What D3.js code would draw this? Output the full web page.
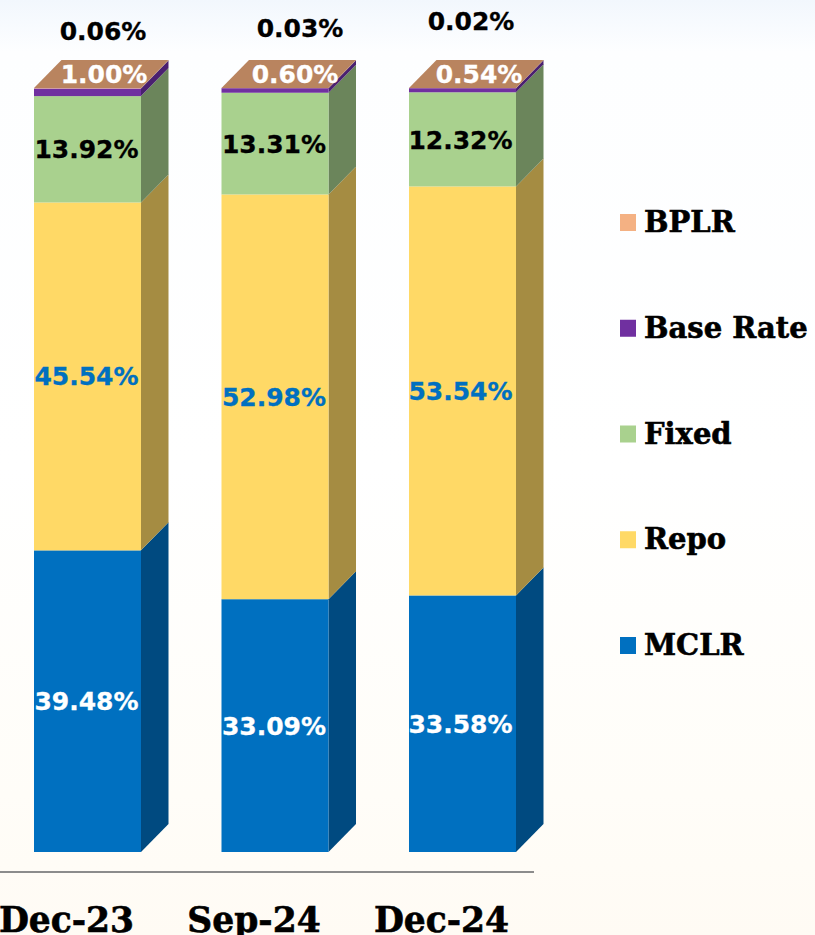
<!DOCTYPE html>
<html>
<head>
<meta charset="utf-8">
<script src="https://cdn.jsdelivr.net/npm/d3@7"></script>
<style>
  html, body { margin: 0; padding: 0; background: #fff; overflow: hidden; }
  svg { display: block; }
  .val { font-family: "DejaVu Sans", sans-serif; font-weight: bold; font-size: 25px; text-anchor: middle; stroke-width: 0.3px; }
  .serif { font-family: "DejaVu Serif", serif; font-weight: bold; fill: #000; stroke: #000; stroke-width: 0.6px; }
</style>
</head>
<body>
<div id="chart"></div>
<script>
// values, one array per series
var categories = ['Dec-23', 'Sep-24', 'Dec-24'];
var mclr = [39.48, 33.09, 33.58];
var repo = [45.54, 52.98, 53.54];
var fixed = [13.92, 13.31, 12.32];
var baseRate = [1.00, 0.60, 0.54];
var bplr = [0.06, 0.03, 0.02];
var seriesNames = ['MCLR', 'Repo', 'Fixed', 'Base Rate', 'BPLR'];
var seriesValues = [mclr, repo, fixed, baseRate, bplr];

var WIDTH = 815, HEIGHT = 935;
var DEPTH_X = 27.5, DEPTH_Y = 28;

var frontColor = ['#0070c0', '#ffd966', '#a9d18e', '#7030a0', '#f4b183'];
var sideColor = ['#004a80', '#a58c42', '#6b855b', '#4a2070', '#a0755a'];
var topColor = '#b9845f';
var labelColor = ['#fff', '#0070c0', '#000'];

// hand placed labels, the source chart had them dragged around
var labelShift = [-1, -1, -2];
var baseLabelPos = [[104, 74], [295, 74], [479, 74]];
var bplrLabelPos = [[103, 31], [300, 28], [471, 21]];
var repoLabelY = [376, 397, 391];
var fixedLabelY = [149, 144, 140];

var svg = d3.select('#chart').append('svg').attr('width', WIDTH).attr('height', HEIGHT);

var grad = svg.append('defs').append('linearGradient')
  .attr('id', 'bg').attr('x1', 0).attr('y1', 0).attr('x2', 0).attr('y2', 1);
[[0, '#f2f7fd'], [0.055, '#fdfeff'], [0.5, '#ffffff'], [0.85, '#fffdf8'], [1, '#fffbf4']].forEach(function (s) {
  grad.append('stop').attr('offset', s[0]).attr('stop-color', s[1]);
});
svg.append('rect').attr('width', WIDTH).attr('height', HEIGHT).attr('fill', 'url(#bg)');

var x = d3.scaleBand().domain(categories).range([34, 516]).paddingInner(0.4293);
var y = d3.scaleLinear().domain([0, 100]).range([852, 88]);

// stack the series per category
var rows = categories.map(function (c, i) {
  var row = { category: c };
  seriesNames.forEach(function (n, k) { row[n] = seriesValues[k][i]; });
  return row;
});
var stacked = d3.stack().keys(seriesNames)(rows);

var bars = svg.append('g');
stacked.forEach(function (layer, k) {
  var g = bars.append('g');
  // side wall
  g.selectAll('path').data(layer).enter().append('path')
    .attr('fill', sideColor[k])
    .attr('d', function (d) {
      var x1 = x(d.data.category) + x.bandwidth();
      return 'M' + x1 + ',' + y(d[0]) + 'L' + (x1 + DEPTH_X) + ',' + (y(d[0]) - DEPTH_Y) +
        'L' + (x1 + DEPTH_X) + ',' + (y(d[1]) - DEPTH_Y) + 'L' + x1 + ',' + y(d[1]) + 'Z';
    });
  // front
  g.selectAll('rect').data(layer).enter().append('rect')
    .attr('x', function (d) { return x(d.data.category); })
    .attr('y', function (d) { return y(d[1]); })
    .attr('width', x.bandwidth())
    .attr('height', function (d) { return y(d[0]) - y(d[1]); })
    .attr('fill', frontColor[k]);
});

// top face
bars.append('g').selectAll('path').data(stacked[4]).enter().append('path')
  .attr('fill', topColor)
  .attr('d', function (d) {
    var x0 = x(d.data.category), w = x.bandwidth(), t = y(d[1]);
    return 'M' + x0 + ',' + t + 'L' + (x0 + DEPTH_X) + ',' + (t - DEPTH_Y) +
      'L' + (x0 + w + DEPTH_X) + ',' + (t - DEPTH_Y) + 'L' + (x0 + w) + ',' + t + 'Z';
  });

// axis line + category labels (labels sit left of the bars in the source)
var axis = svg.append('g').attr('transform', 'translate(-21,872)')
  .call(d3.axisBottom(x).tickSize(0).tickPadding(0));
axis.select('.domain').remove();
axis.selectAll('text').attr('class', 'serif').attr('dy', 0).attr('y', 60)
  .style('font-size', '34.5px').style('font-family', '"DejaVu Serif", serif').style('font-weight', 'bold').attr('fill', '#000');
svg.append('line').attr('x1', 0).attr('x2', 534).attr('y1', 872).attr('y2', 872)
  .attr('stroke', '#8c8c8c').attr('stroke-width', 2);

// value labels
function fmt(v) { return v.toFixed(2) + '%'; }
var labels = svg.append('g');
function valueLabel(px, py, v, color) {
  labels.append('text').attr('class', 'val')
    .attr('x', px).attr('y', py).attr('dy', '0.36em')
    .attr('fill', color).attr('stroke', color).text(fmt(v));
}
categories.forEach(function (c, i) {
  var cx = x(c) + x.bandwidth() / 2 + labelShift[i];
  valueLabel(cx, (y(0) + y(mclr[i])) / 2, mclr[i], labelColor[0]);
  valueLabel(cx, repoLabelY[i], repo[i], labelColor[1]);
  valueLabel(cx, fixedLabelY[i], fixed[i], labelColor[2]);
  valueLabel(baseLabelPos[i][0], baseLabelPos[i][1], baseRate[i], '#fff');
  valueLabel(bplrLabelPos[i][0], bplrLabelPos[i][1], bplr[i], '#000');
});

// legend, top entry is the last series
var legendY = d3.scalePoint().domain(seriesNames.slice().reverse()).range([222, 645]);
var legend = svg.append('g').selectAll('g').data(seriesNames).enter().append('g')
  .attr('transform', function (d) { return 'translate(620,' + legendY(d) + ')'; });
legend.append('rect').attr('x', 0).attr('y', -8).attr('width', 16).attr('height', 17)
  .attr('fill', function (d, i) { return frontColor[i]; });
legend.append('text').attr('class', 'serif').attr('x', 24).attr('y', 10)
  .style('font-size', '29px').text(function (d) { return d; });
</script>
</body>
</html>
